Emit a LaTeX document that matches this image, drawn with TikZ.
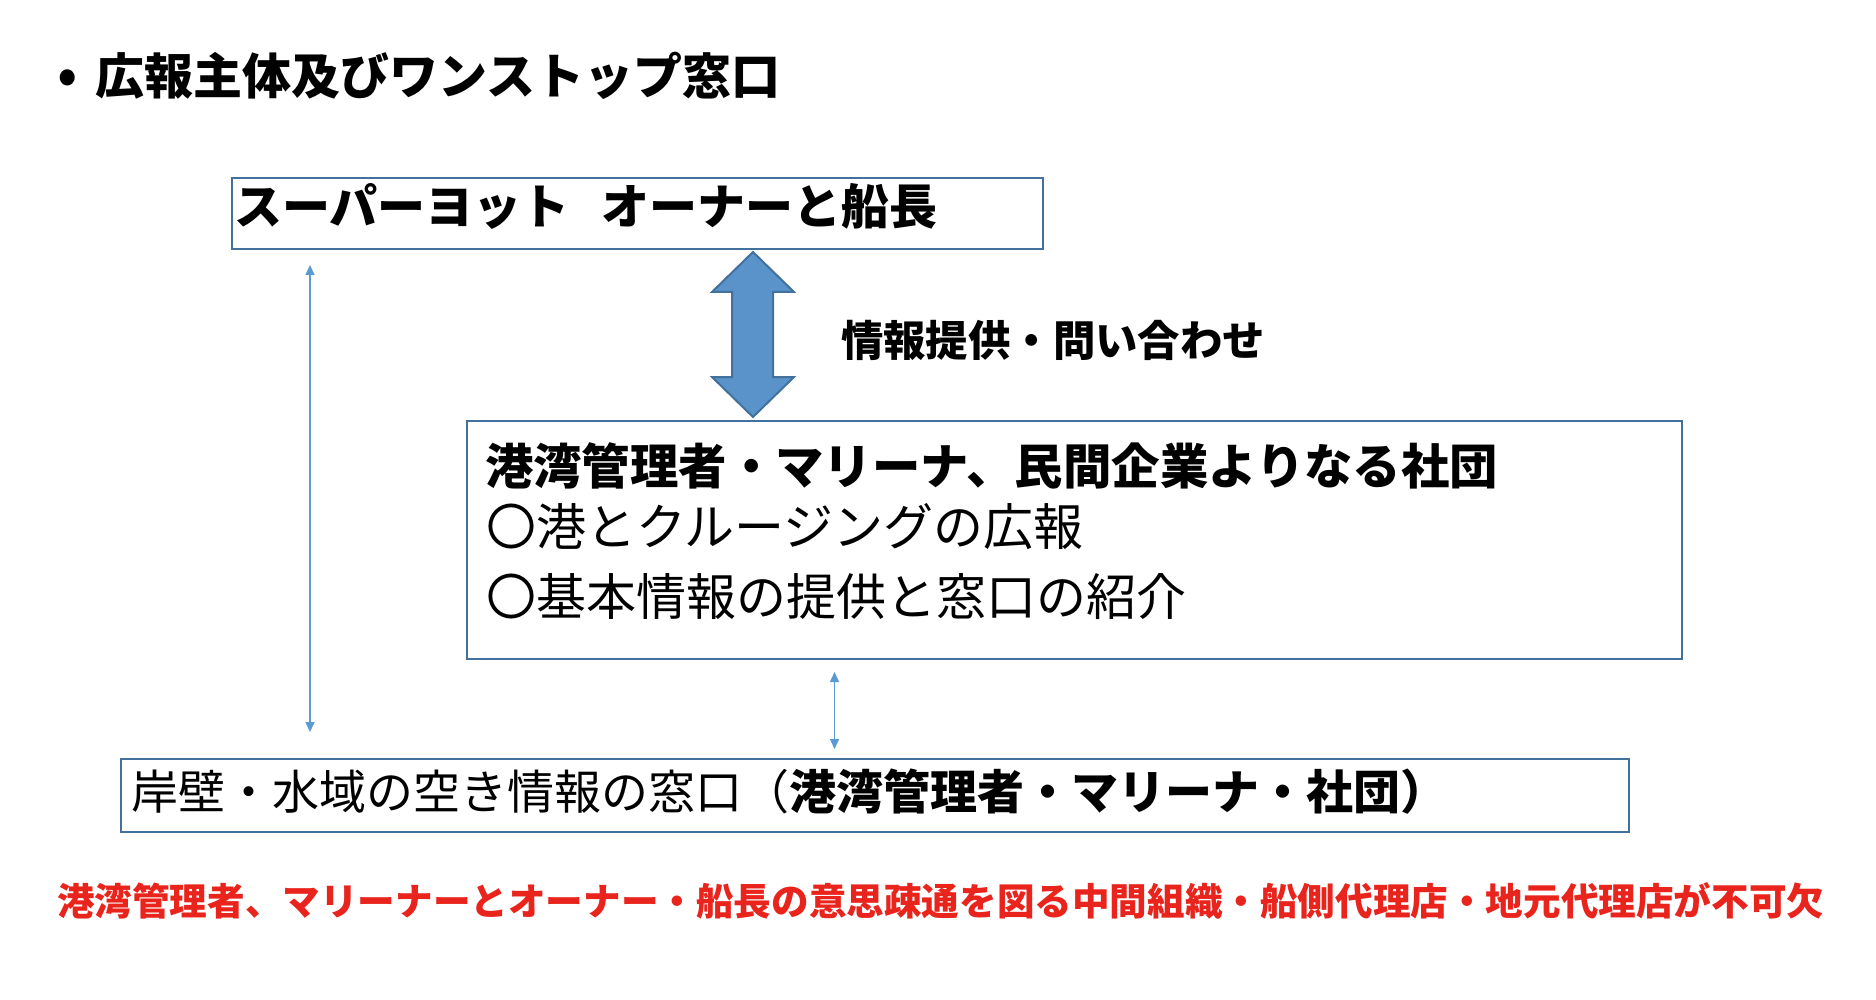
\documentclass[tikz,border=0pt]{standalone}
\usepackage{fontspec}
\setmainfont{Noto Sans CJK JP}
\usetikzlibrary{arrows.meta,calc}
\definecolor{boxblue}{HTML}{41719C}
\definecolor{lineblue}{HTML}{5B9BD5}
\definecolor{arrowfill}{HTML}{5A93C9}
\definecolor{alertred}{RGB}{232,36,28}
\newcommand\fs[1]{\fontsize{#1pt}{#1pt}\selectfont}
\begin{document}
\begin{tikzpicture}[x=1pt,y=-1pt,
  frame/.style={draw=boxblue, line width=2pt, inner sep=0pt, outer sep=0pt, anchor=north west},
  txt/.style={anchor=west, inner sep=0pt, outer sep=0pt, text=black},
  thinarrow/.style={draw=lineblue, line width=1.5pt, {Triangle[length=10pt,width=9pt]}-{Triangle[length=10pt,width=9pt]}},
  bigarrow/.style={draw=boxblue, line width=2pt, fill=arrowfill, line join=miter}
  ]
\useasboundingbox (0,0) rectangle (1876,1000);
\fill[white] (0,0) rectangle (1876,1000);

% boxes
\node[frame, minimum width=811pt, minimum height=71pt] (b1) at (232,178) {};
\node[frame, minimum width=1215pt, minimum height=238pt] (b2) at (467,421) {};
\node[frame, minimum width=1508pt, minimum height=73pt] (b3) at (121,759) {};

% big double arrow between b1 and b2
\coordinate (at) at ($(b1.south west)+(521,3)$);
\coordinate (ab) at ($(b2.north west)+(286,-4)$);
\draw[bigarrow] (at) -- ($(at)+(41,40)$) -- ($(at)+(20,40)$) -- ($(ab)+(20,-40)$)
  -- ($(ab)+(41,-40)$) -- (ab) -- ($(ab)+(-41,-40)$) -- ($(ab)+(-21,-40)$)
  -- ($(at)+(-21,40)$) -- ($(at)+(-41,40)$) -- cycle;

% thin arrows
\coordinate (l1) at ($(b1.south west)+(78,16)$);
\coordinate (l2) at ($(b3.north west)+(189,-27)$);
\draw[thinarrow] (l1) -- (l2);
\coordinate (m1) at ($(b2.south west)+(367.5,13)$);
\coordinate (m2) at ($(b3.north west)+(713.5,-10)$);
\draw[thinarrow] (m1) -- (m2);

% texts
\node[inner sep=0pt, font=\fs{60}] (bullet) at (68,83) {•};
\node[txt, font=\bfseries\fs{49}] (title) at (95,76) {広報主体及びワンストップ窓口};
\node[txt, font=\bfseries\fs{48}] (t1) at (234,206) {スーパーヨット\hspace{32pt}オーナーと船長};
\node[txt, font=\bfseries\fs{42.4}] (lab) at (841,340) {情報提供・問い合わせ};
\node[txt, font=\bfseries\fs{48.4}] (t2a) at (485,466) {港湾管理者・マリーナ、民間企業よりなる社団};
\node[txt, font=\fs{50}] (t2b) at (486,527) {〇港とクルージングの広報};
\node[txt, font=\fs{50}] (t2c) at (486,597) {〇基本情報の提供と窓口の紹介};
\node[txt, font=\fs{47}] (t3) at (131,792) {岸壁・水域の空き情報の窓口（\textbf{港湾管理者・マリーナ・社団）}};
\node[txt, font=\bfseries\fs{37.6}, text=alertred] (red) at (57,901) {港湾管理者、マリーナーとオーナー・船長の意思疎通を図る中間組織・船側代理店・地元代理店が不可欠};
\end{tikzpicture}
\end{document}
